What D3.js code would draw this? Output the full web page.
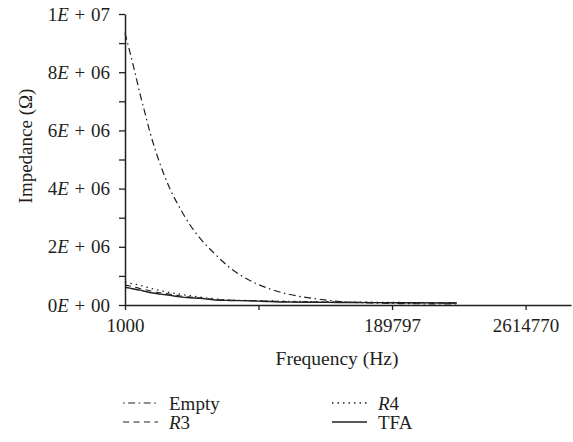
<!DOCTYPE html>
<html>
<head>
<meta charset="utf-8">
<script src="https://cdn.jsdelivr.net/npm/d3@7"></script>
<style>
  html, body { margin: 0; padding: 0; background: #fff; }
  svg { display: block; }
  svg text { font-family: "Liberation Serif", "Times New Roman", Times, "DejaVu Serif", serif; }
</style>
</head>
<body>
<svg id="chart" width="573" height="442"></svg>
<script>
// ---- data ----
const frequencies = [1000, 1100, 1220, 1340, 1480, 1630, 1990, 2420, 2950, 3590, 4360, 5860, 7870, 11650, 17260, 25560, 41770, 68290, 123100, 221800, 399900, 679200];
const emptyValues = [9.35e6, 8.7e6, 7.97e6, 7.27e6, 6.6e6, 5.95e6, 4.85e6, 3.99e6, 3.32e6, 2.75e6, 2.3e6, 1.75e6, 1.28e6, 0.84e6, 0.55e6, 0.36e6, 0.22e6, 0.12e6, 0.07e6, 0.05e6, 0.04e6, 0.035e6];
const r3Values    = [0.69e6, 0.65e6, 0.61e6, 0.57e6, 0.53e6, 0.49e6, 0.42e6, 0.37e6, 0.31e6, 0.27e6, 0.24e6, 0.19e6, 0.16e6, 0.15e6, 0.13e6, 0.115e6, 0.105e6, 0.095e6, 0.088e6, 0.08e6, 0.075e6, 0.07e6];
const r4Values    = [0.79e6, 0.75e6, 0.71e6, 0.68e6, 0.63e6, 0.58e6, 0.50e6, 0.43e6, 0.37e6, 0.32e6, 0.27e6, 0.21e6, 0.17e6, 0.15e6, 0.14e6, 0.125e6, 0.115e6, 0.10e6, 0.095e6, 0.086e6, 0.078e6, 0.07e6];
const tfaValues   = [0.61e6, 0.58e6, 0.54e6, 0.51e6, 0.47e6, 0.43e6, 0.375e6, 0.33e6, 0.28e6, 0.25e6, 0.23e6, 0.17e6, 0.155e6, 0.145e6, 0.12e6, 0.10e6, 0.095e6, 0.088e6, 0.082e6, 0.078e6, 0.074e6, 0.07e6];
const seriesNames = ["Empty", "R3", "R4", "TFA"];
const xTickValues = [1000, 13773, 189797, 2614770];
const xTickLabels = ["1000", "", "189797", "2614770"];
const yTickValues = [0, 1e6, 2e6, 3e6, 4e6, 5e6, 6e6, 7e6, 8e6, 9e6, 1e7];
const yTickLabels = [["0", "00"], null, ["2", "06"], null, ["4", "06"], null, ["6", "06"], null, ["8", "06"], null, ["1", "07"]];
const xTitle = "Frequency (Hz)";
const yTitle = "Impedance (\u03A9)";

// ---- layout ----
const ink = "#231f20";
const svg = d3.select("#chart");
const x = d3.scaleLog().domain([1000, 6383000]).range([125, 571]);
const y = d3.scaleLinear().domain([0, 1e7]).range([305, 14]);

// axes
const yAxis = d3.axisLeft(y).tickValues(yTickValues).tickSize(6).tickSizeOuter(0).tickPadding(9)
  .tickFormat(() => "");
const gy = svg.append("g").attr("transform", "translate(125,0)").call(yAxis);
gy.selectAll("text").each(function(d, i) {
  const lab = yTickLabels[i];
  if (!lab) return;
  const t = d3.select(this);
  t.append("tspan").text(lab[0]);
  t.append("tspan").attr("font-style", "italic").text("E");
  t.append("tspan").text(" + " + lab[1]);
});

const xAxis = d3.axisBottom(x).tickValues(xTickValues).tickSize(5).tickSizeOuter(0).tickPadding(8.5)
  .tickFormat((d, i) => xTickLabels[i]);
const gx = svg.append("g").attr("transform", "translate(0,305)").call(xAxis);

[gx, gy].forEach(g => {
  g.attr("font-family", null);
  g.select(".domain").attr("stroke", ink).attr("stroke-width", 1.5);
  g.selectAll(".tick line").attr("stroke", ink).attr("stroke-width", 1.3);
  g.selectAll("text").attr("fill", ink).attr("font-size", 19);
});
gy.selectAll("text").attr("word-spacing", 1);

// titles
svg.append("text").attr("x", 337).attr("y", 365).attr("text-anchor", "middle")
  .attr("font-size", 19.5).attr("fill", ink).text(xTitle);
svg.append("text").attr("transform", "translate(31.5,146) rotate(-90)").attr("text-anchor", "middle")
  .attr("font-size", 19).attr("fill", ink).text(yTitle);

// series
const styles = {
  Empty: { values: emptyValues, dash: "7,3.5,1.6,3.5", offset: 10.5, width: 1.2 },
  R3:    { values: r3Values,    dash: "6,4.5",         offset: 0,    width: 1.1 },
  R4:    { values: r4Values,    dash: "1.5,4",         offset: 0,    width: 1.3 },
  TFA:   { values: tfaValues,   dash: null,            offset: 0,    width: 1.4 }
};
const line = d3.line().x(d => x(d[0])).y(d => y(d[1])).curve(d3.curveMonotoneX);
["Empty", "R4", "R3", "TFA"].forEach(name => {
  const s = styles[name];
  const pts = frequencies.map((f, i) => [f, s.values[i]]);
  svg.append("path").datum(pts).attr("d", line).attr("fill", "none")
    .attr("stroke", ink).attr("stroke-width", s.width)
    .attr("stroke-dasharray", s.dash);
});

// legend
const legendPos = { Empty: [123, 403, 409.5], R3: [123, 422, 428.5], R4: [332, 403, 409.5], TFA: [332, 422, 428.5] };
seriesNames.forEach(name => {
  const s = styles[name];
  const [lx, ly, ty] = legendPos[name];
  svg.append("line").attr("x1", lx).attr("x2", lx + 35).attr("y1", ly).attr("y2", ly)
    .attr("stroke", ink).attr("stroke-width", s.width).attr("stroke-dasharray", s.dash)
    .attr("stroke-dashoffset", s.offset);
  const t = svg.append("text").attr("x", lx + 46).attr("y", ty).attr("font-size", 19).attr("fill", ink);
  if (name[0] === "R") {
    t.append("tspan").attr("font-style", "italic").text("R");
    t.append("tspan").text(name.slice(1));
  } else {
    t.text(name);
  }
});
</script>
</body>
</html>
